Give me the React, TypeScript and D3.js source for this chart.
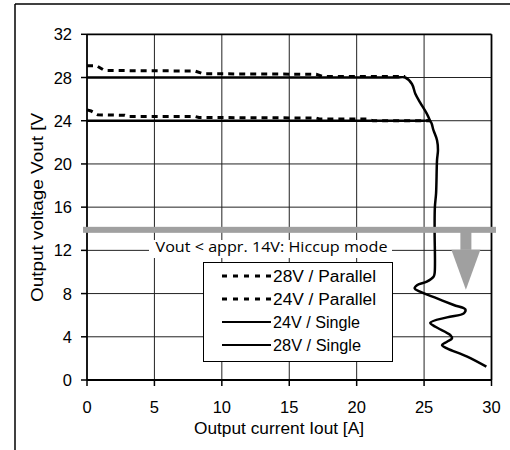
import React from "react";
import * as d3 from "d3";

const xTicks = [0, 5, 10, 15, 20, 25, 30];
const yTicks = [0, 4, 8, 12, 16, 20, 24, 28, 32];

const par28X = [0, 0.7, 1.3, 8.0, 8.6, 17.0, 17.5, 23.6];
const par28Y = [29.1, 29.1, 28.65, 28.6, 28.35, 28.3, 28.1, 28.1];

const par24X = [0, 0.3, 0.8, 2.8, 3.0, 8.0, 8.3, 17.0, 17.3, 20.8, 21.2, 25.4];
const par24Y = [25.0, 24.9, 24.55, 24.5, 24.4, 24.4, 24.3, 24.25, 24.15, 24.15, 24.0, 24.0];

const single28X = [0, 22.0, 23.0, 23.6, 24.1, 24.35, 24.7, 25.2, 25.46];
const single28Y = [28, 28, 28, 28, 27.4, 26.5, 25.7, 24.66, 23.96];

const single24X = [0, 23.5, 24.5, 25.0, 25.46, 25.7, 25.96, 26.03, 25.96, 25.89, 25.8, 25.78, 25.78, 25.7, 25.2, 24.5, 24.3, 24.7, 25.96, 27.2, 28.06, 27.95, 26.7, 25.46, 25.84, 26.95, 27.07, 26.7, 26.33, 26.7, 28.2, 29.62];
const single24Y = [24, 24, 24, 24, 23.96, 23.1, 22.2, 21.3, 20.35, 17.3, 16.0, 13.9, 9.87, 9.56, 9.1, 8.79, 8.48, 8.17, 7.55, 6.94, 6.54, 6.17, 5.8, 5.3, 4.93, 4.16, 3.85, 3.54, 3.24, 2.93, 2.16, 1.23];

const legendLabels = ["28V / Parallel", "24V / Parallel", "24V / Single", "28V / Single"];
const legendDashed = [true, true, false, false];
const legendWidths = [103, 103, 87, 88];

const hiccupText = "Vout < appr. 14V: Hiccup mode";
const hiccupLevel = 13.9;
const arrowX = 28.1;

export default function App() {
  const W = 510, H = 450;
  const x = d3.scaleLinear().domain([0, 30]).range([87, 491.5]);
  const y = d3.scaleLinear().domain([0, 32]).range([380, 34.3]);
  const font = "'Liberation Sans', Arial, sans-serif";

  const mk = (xs: number[], ys: number[], curve: any) =>
    d3.line<number>().x((_, i) => x(xs[i])).y((_, i) => y(ys[i])).curve(curve)(xs.map((_, i) => i)) || "";

  const straight = d3.curveLinear;
  const smooth = d3.curveCatmullRom.alpha(0.5);

  const bandY = y(hiccupLevel);
  const ax = x(arrowX);

  return (
    <svg width={W} height={H} style={{ position: "absolute", left: 0, top: 0, background: "#fff" }}>
      <rect x={0} y={0} width={W} height={H} fill="#fff" />
      {/* outer frame */}
      <line x1={15} y1={4} x2={510} y2={4} stroke="#000" strokeWidth={1.5} />
      <line x1={15} y1={4} x2={15} y2={450} stroke="#000" strokeWidth={1.5} />

      {/* gridlines */}
      {xTicks.slice(1, -1).map((t) => (
        <line key={"gx" + t} x1={x(t)} x2={x(t)} y1={y(32)} y2={y(0)} stroke="#222" strokeWidth={1} />
      ))}
      {yTicks.slice(1, -1).map((t) => (
        <line key={"gy" + t} x1={x(0)} x2={x(30)} y1={y(t)} y2={y(t)} stroke="#222" strokeWidth={1} />
      ))}
      {/* frame of plot */}
      <line x1={x(0)} x2={x(30)} y1={y(32)} y2={y(32)} stroke="#000" strokeWidth={1.8} />
      <line x1={x(30)} x2={x(30)} y1={y(32)} y2={y(0)} stroke="#000" strokeWidth={1.8} />
      <line x1={x(0)} x2={x(0)} y1={y(32)} y2={y(0)} stroke="#000" strokeWidth={1.8} />
      <line x1={x(0)} x2={x(30)} y1={y(0)} y2={y(0)} stroke="#000" strokeWidth={1.8} />

      {/* ticks */}
      {yTicks.map((t) => (
        <g key={"ty" + t}>
          <line x1={x(0) - 6} x2={x(0)} y1={y(t)} y2={y(t)} stroke="#000" strokeWidth={1.5} />
          <text x={72} y={y(t) + 6} textAnchor="end" fontFamily={font} fontSize={16.5} fill="#000">{t}</text>
        </g>
      ))}
      {xTicks.map((t) => (
        <g key={"tx" + t}>
          <line x1={x(t)} x2={x(t)} y1={y(0)} y2={y(0) + 6} stroke="#000" strokeWidth={1.5} />
          <text x={x(t)} y={413} textAnchor="middle" fontFamily={font} fontSize={16.5} fill="#000">{t}</text>
        </g>
      ))}

      {/* axis titles */}
      <text x={194} y={434} fontFamily={font} fontSize={16.5} textLength={170} lengthAdjust="spacingAndGlyphs" fill="#000">Output current Iout [A]</text>
      <text transform="translate(43,302) rotate(-90)" x={0} y={0} fontFamily={font} fontSize={16.5} textLength={189} lengthAdjust="spacingAndGlyphs" fill="#000">Output voltage Vout [V</text>

      {/* curves */}
      <path d={mk(single28X, single28Y, smooth)} fill="none" stroke="#000" strokeWidth={2.5} />
      <path d={mk(single24X, single24Y, smooth)} fill="none" stroke="#000" strokeWidth={2.5} strokeLinejoin="round" />
      <path d={mk(par28X, par28Y, straight)} fill="none" stroke="#000" strokeWidth={3} strokeDasharray="6,5" />
      <path d={mk(par24X, par24Y, straight)} fill="none" stroke="#000" strokeWidth={3} strokeDasharray="6,5" />

      {/* hiccup label */}
      <rect x={149} y={240} width={243} height={18} fill="#fff" />
      <text x={271.5} y={252} textAnchor="middle" fontFamily="'Open Sans', 'Noto Sans', sans-serif" fontSize={14} textLength={232} lengthAdjust="spacingAndGlyphs" fill="#000">{hiccupText}</text>

      {/* gray band and arrow */}
      <rect x={83} y={bandY - 3} width={413} height={6} fill="#a0a0a0" />
      <rect x={ax - 5.5} y={bandY} width={11} height={20} fill="#a0a0a0" />
      <path d={`M${ax - 14.5},${bandY + 20} L${ax + 14.5},${bandY + 20} L${ax},${bandY + 60} Z`} fill="#a0a0a0" />

      {/* legend */}
      <rect x={203.5} y={262.5} width={189} height={99} fill="#fff" stroke="#000" strokeWidth={1} />
      {legendLabels.map((l, i) => {
        const ly = 276 + i * 23;
        return (
          <g key={l}>
            <line x1={222} x2={271} y1={ly} y2={ly} stroke="#000" strokeWidth={legendDashed[i] ? 3 : 2} strokeDasharray={legendDashed[i] ? "5,6" : undefined} />
            <text x={273} y={ly + 6} fontFamily={font} fontSize={16} textLength={legendWidths[i]} lengthAdjust="spacingAndGlyphs" fill="#000">{l}</text>
          </g>
        );
      })}
    </svg>
  );
}
